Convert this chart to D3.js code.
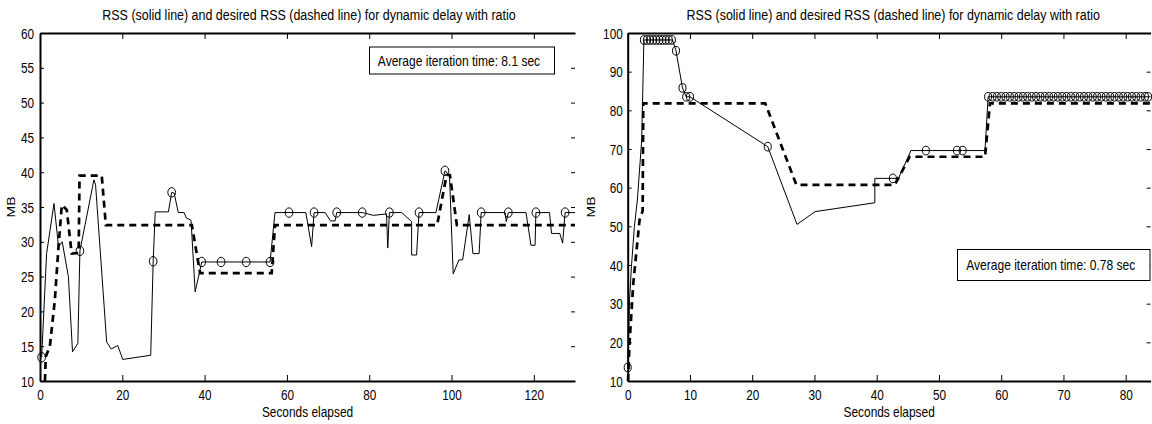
<!DOCTYPE html>
<html>
<head>
<meta charset="utf-8">
<script src="https://cdn.jsdelivr.net/npm/d3@7"></script>
<style>
  body { margin: 0; background: #fff; }
  svg { display: block; }
</style>
</head>
<body>
<script>
// ---- left panel (8.1 sec / iteration) ----
const leftTime = [0.4,1.6,3.4,4.5,5.4,6.9,7.9,9.2,9.7,13.1,13.5,16.2,17.3,18.9,20.1,26.9,27.5,28.0,31.2,32.0,32.6,33.6,35.0,35.6,36.7,37.7,39.3,44.0,50.1,55.9,57.1,60.5,64.6,66.0,66.6,69.3,70.6,71.7,72.1,78.3,81.0,84.2,84.5,84.9,87.9,90.3,90.3,91.5,92.1,96.2,98.4,99.5,100.4,101.8,102.7,104.3,105.2,106.7,107.2,113.0,113.3,113.8,118.1,119.3,120.3,120.5,123.8,124.3,126.3,127.0,127.6,130];
const leftRss = [13.4,28.3,35.5,29.3,30.0,25.0,14.2,15.4,28.7,38.9,38.2,15.6,14.6,15.1,13.1,13.7,27.2,34.3,34.3,37.1,37.0,34.2,34.2,33.4,33.1,22.8,27.1,27.1,27.1,27.1,34.2,34.2,34.2,29.3,34.2,34.2,33.0,33.0,34.2,34.2,33.8,34.0,29.1,34.2,34.2,32.9,28.1,28.1,34.2,34.2,40.2,39.6,25.4,27.4,27.4,33.9,28.3,28.3,34.2,34.2,32.9,34.2,34.2,29.5,29.5,34.2,34.2,31.2,31.2,29.8,34.2,34.2];
const leftDesTime = [1.2,1.4,2.4,3.6,4.5,5.3,6.5,7.7,9.4,9.6,15.0,16.0,36.9,38.9,56.3,57.1,96.5,98.8,99.6,101.3,130];
const leftDesRss = [10.0,13.5,15.0,21.6,29.3,35.3,34.6,28.3,28.4,39.5,39.5,32.4,32.4,25.5,25.5,32.4,32.4,39.6,39.6,32.4,32.4];
const leftMarkTime = [0.4,9.7,27.5,32.0,39.3,44.0,50.1,55.9,60.5,66.6,72.1,78.3,84.9,92.1,98.4,107.2,113.8,120.5,127.6];
const leftMarkRss = [13.4,28.7,27.2,37.1,27.1,27.1,27.1,27.1,34.2,34.2,34.2,34.2,34.2,34.2,40.2,34.2,34.2,34.2,34.2];
const leftXTicks = [0,20,40,60,80,100,120];
const leftYTicks = [10,15,20,25,30,35,40,45,50,55,60];

// ---- right panel (0.78 sec / iteration) ----
const rightTime = [0,0.15,0.3,0.6,1.07,1.55,2.25,2.6,7.2,7.76,8.8,9.4,10.0,22.5,27.2,30.1,39.7,39.7,42.6,43.5,45.5,47.9,52.9,53.8,57.4,57.9,84];
const rightRss = [13.5,20.6,31,39.6,49.9,56.8,72.3,98.2,98.2,95.4,85.8,83.5,83.5,70.6,50.5,53.8,56.1,62.4,62.4,62.4,69.6,69.6,69.6,69.6,69.6,83.5,83.5];
const rightDesTime = [0.05,0.3,0.9,1.9,2.4,2.5,22.1,27.1,42.9,45.3,57.4,58.2,84];
const rightDesRss = [10,20,35.3,51.6,54,81.8,81.8,60.7,60.7,68.0,68.0,81.8,81.8];
const rightMarkTime = [0,2.6,3.1,3.6,4.1,4.6,5.1,5.6,6.1,6.6,7.1,7.76,8.8,9.4,10.0,22.5,42.6,47.9,52.9,53.8,
  57.9,58.6,59.3,60.0,60.7,61.4,62.1,62.8,63.5,64.2,64.9,65.6,66.3,67.0,67.7,68.4,69.1,69.8,70.5,71.2,
  71.9,72.6,73.3,74.0,74.7,75.4,76.1,76.8,77.5,78.2,78.9,79.6,80.3,81.0,81.7,82.4,83.1,83.6];
const rightMarkRss = [13.5,98.2,98.2,98.2,98.2,98.2,98.2,98.2,98.2,98.2,98.2,95.4,85.8,83.5,83.5,70.6,62.4,69.6,69.6,69.6,
  83.5,83.5,83.5,83.5,83.5,83.5,83.5,83.5,83.5,83.5,83.5,83.5,83.5,83.5,83.5,83.5,83.5,83.5,83.5,83.5,
  83.5,83.5,83.5,83.5,83.5,83.5,83.5,83.5,83.5,83.5,83.5,83.5,83.5,83.5,83.5,83.5,83.5,83.5];
const rightXTicks = [0,10,20,30,40,50,60,70,80];
const rightYTicks = [10,20,30,40,50,60,70,80,90,100];

const titleText = "RSS (solid line) and desired RSS (dashed line) for dynamic delay with ratio";

// figure was squeezed sideways, so text is narrowed too
const sx = 0.82;
const W = 1152, H = 424;
const plotTop = 33, plotBottom = 381;

const svg = d3.select(document.body)
  .append('svg')
  .attr('xmlns', 'http://www.w3.org/2000/svg')
  .attr('width', W)
  .attr('height', H)
  .style('font-family', '"Liberation Sans", Arial, sans-serif')
  .style('font-size', '14px');

function label(g, x, y, str, anchor, rot, k) {
  return g.append('text')
    .attr('transform', `translate(${x},${y}) scale(${k || sx},1)` + (rot ? ' rotate(-90)' : ''))
    .attr('text-anchor', anchor)
    .attr('fill', '#000')
    .text(str);
}

function drawPanel(p) {
  const g = svg.append('g');
  const x = d3.scaleLinear().domain(p.xDomain).range([p.left, p.right]);
  const y = d3.scaleLinear().domain(p.yDomain).range([plotBottom, plotTop]);

  const line = (tt, vv) => d3.line().x((d, i) => x(tt[i])).y(d => y(d))(vv);

  // desired RSS
  g.append('path')
    .attr('d', line(p.desTime, p.desRss))
    .attr('fill', 'none')
    .attr('stroke', '#000')
    .attr('stroke-width', 2.7)
    .attr('stroke-dasharray', '7,5');

  // measured RSS
  g.append('path')
    .attr('d', line(p.time, p.rss))
    .attr('fill', 'none')
    .attr('stroke', '#000')
    .attr('stroke-width', 1);

  g.selectAll('ellipse.mk')
    .data(p.markRss)
    .enter()
    .append('ellipse')
    .attr('class', 'mk')
    .attr('cx', (d, i) => x(p.markTime[i]))
    .attr('cy', d => y(d))
    .attr('rx', p.mr * sx)
    .attr('ry', p.mr)
    .attr('fill', 'none')
    .attr('stroke', '#000')
    .attr('stroke-width', 1);

  // axes
  const xb = g.append('g').attr('transform', `translate(0,${plotBottom})`)
    .call(d3.axisBottom(x).tickValues(p.xTicks).tickSizeInner(-6).tickSizeOuter(0));
  xb.selectAll('text')
    .attr('x', 0).attr('y', 0).attr('dy', null)
    .attr('transform', `translate(0,19) scale(0.84,1)`);

  const xt = g.append('g').attr('transform', `translate(0,${plotTop})`)
    .call(d3.axisTop(x).tickValues(p.xTicks).tickSizeInner(-6).tickSizeOuter(0));
  xt.selectAll('text').remove();

  const yl = g.append('g').attr('transform', `translate(${p.left},0)`)
    .call(d3.axisLeft(y).tickValues(p.yTicks).tickSizeInner(-4).tickSizeOuter(0));
  yl.selectAll('text')
    .attr('x', 0).attr('y', 0).attr('dy', null)
    .attr('transform', `translate(${-p.ygap},5) scale(0.84,1)`);

  const yr = g.append('g').attr('transform', `translate(${p.right},0)`)
    .call(d3.axisRight(y).tickValues(p.yTicks).tickSizeInner(-4).tickSizeOuter(0));
  yr.selectAll('text').remove();
  yr.select('.domain').remove();

  g.selectAll('.tick text')
    .attr('font-family', '"Liberation Sans", Arial, sans-serif')
    .attr('font-size', 14)
    .attr('fill', '#000');
  g.selectAll('.tick line').attr('stroke', '#000').attr('stroke-width', 1);
  g.selectAll('.domain').attr('stroke', '#000').attr('stroke-width', 2);

  const cx = (p.left + p.right) / 2;
  label(g, cx + p.titleShift, 20, titleText, 'middle', false, 0.89);
  label(g, cx, 417, 'Seconds elapsed', 'middle', false, 0.85);
  label(g, p.mbX, (plotTop + plotBottom) / 2, 'MB', 'middle', true);

  // average iteration time box
  g.append('rect')
    .attr('x', p.box[0]).attr('y', p.box[1])
    .attr('width', p.box[2]).attr('height', p.box[3])
    .attr('fill', '#fff').attr('stroke', '#000').attr('stroke-width', 1);
  label(g, p.box[0] + p.box[2] / 2 - 3, p.box[1] + p.box[3] / 2 + 5, p.boxText, 'middle', false, 0.86);
}

drawPanel({
  left: 40, right: 575, xDomain: [0, 130], yDomain: [10, 60],
  time: leftTime, rss: leftRss, desTime: leftDesTime, desRss: leftDesRss,
  markTime: leftMarkTime, markRss: leftMarkRss, mr: 4.7,
  xTicks: leftXTicks, yTicks: leftYTicks, ygap: 6, mbX: 15, titleShift: 1.5,
  box: [369.5, 47, 185, 27], boxText: 'Average iteration time: 8.1 sec'
});

drawPanel({
  left: 627.7, right: 1150.6, xDomain: [0, 84], yDomain: [10, 100],
  time: rightTime, rss: rightRss, desTime: rightDesTime, desRss: rightDesRss,
  markTime: rightMarkTime, markRss: rightMarkRss, mr: 4.3,
  xTicks: rightXTicks, yTicks: rightYTicks, ygap: 5, mbX: 595, titleShift: 4,
  box: [957.5, 249.5, 192.5, 31], boxText: 'Average iteration time: 0.78 sec'
});
</script>
</body>
</html>
